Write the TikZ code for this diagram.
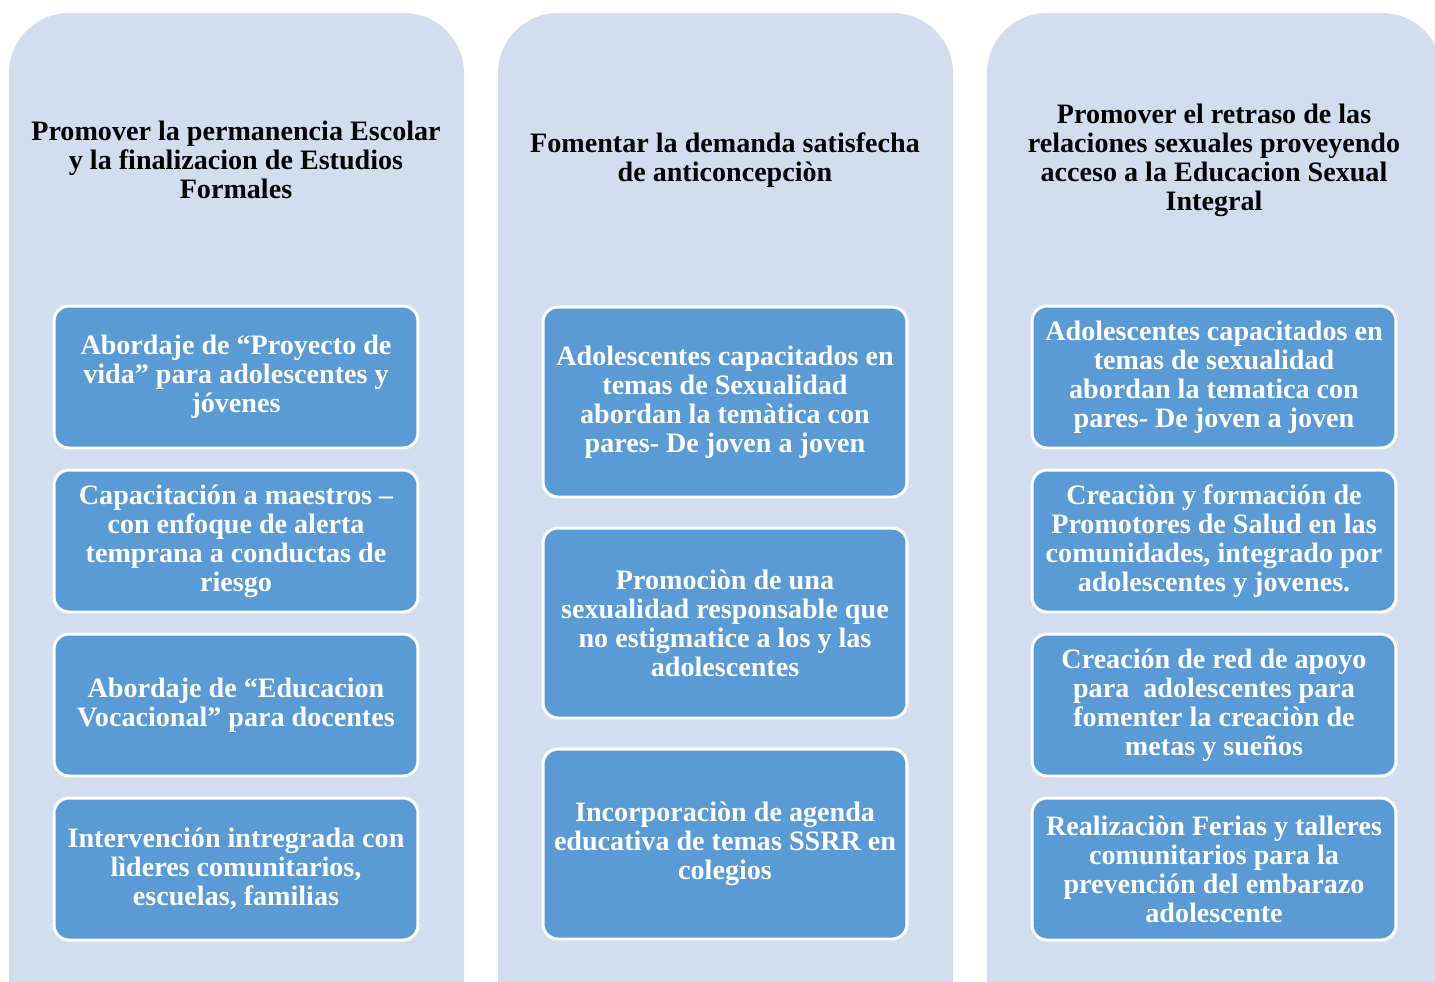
\documentclass[tikz,border=0pt]{standalone}
\usepackage{fontspec}
\setmainfont{Liberation Serif}
\definecolor{colbg}{HTML}{D2DEEF}
\definecolor{boxbg}{HTML}{5B9BD5}
\tikzset{
  column/.style={fill=colbg, rounded corners=1.2cm},
  head/.style={align=center, font=\bfseries\fontsize{16}{16.5}\selectfont},
  item/.style={draw=white, line width=1.7pt, fill=boxbg, rounded corners=0.3cm,
    text=white, align=center, minimum width=7.28cm, minimum height=2.84cm,
    font=\bfseries\fontsize{16}{16.5}\selectfont},
  tall/.style={item, minimum height=3.8cm}
}
\begin{document}
\begin{tikzpicture}[x=0.02cm, y=-0.02cm]
      \useasboundingbox (0,0) rectangle (1435,981);
      \clip (0,0) rectangle (1435,981);
      % columns
      \fill[column] (9,13) rectangle (464,1040);
      \fill[column] (498,13) rectangle (953,1040);
      \fill[column] (987,13) rectangle (1442,1040);
      % headings
      \node[head] (h1) at (236,160) {Promover la permanencia Escolar\\y la finalizacion de Estudios\\Formales};
      \node[head] (h2) at (725,160) {Fomentar la demanda satisfecha\\de anticoncepciòn};
      \node[head] (h3) at (1214,160) {Promover el retraso de las\\relaciones sexuales proveyendo\\acceso a la Educacion Sexual\\Integral};
      % first column
      \node[item] (a1) at (236,377) {Abordaje de “Proyecto de\\vida” para adolescentes y\\jóvenes};
      \node[item] (a2) at (236,541) {Capacitación a maestros –\\con enfoque de alerta\\temprana a conductas de\\riesgo};
      \node[item] (a3) at (236,705) {Abordaje de “Educacion\\Vocacional” para docentes};
      \node[item] (a4) at (236,869) {Intervención intregrada con\\lìderes comunitarios,\\escuelas, familias};
      % second column
      \node[tall] (b1) at (725,402) {Adolescentes capacitados en\\temas de Sexualidad\\abordan la temàtica con\\pares- De joven a joven};
      \node[tall] (b2) at (725,623) {Promociòn de una\\sexualidad responsable que\\no estigmatice a los y las\\adolescentes};
      \node[tall] (b3) at (725,844) {Incorporaciòn de agenda\\educativa de temas SSRR en\\colegios};
      % third column
      \node[item] (c1) at (1214,377) {Adolescentes capacitados en\\temas de sexualidad\\abordan la tematica con\\pares- De joven a joven};
      \node[item] (c2) at (1214,541) {Creaciòn y formación de\\Promotores de Salud en las\\comunidades, integrado por\\adolescentes y jovenes.};
      \node[item] (c3) at (1214,705) {Creación de red de apoyo\\para\ \ adolescentes para\\fomenter la creaciòn de\\metas y sueños};
      \node[item] (c4) at (1214,869) {Realizaciòn Ferias y talleres\\comunitarios para la\\prevención del embarazo\\adolescente};
    \end{tikzpicture}
\end{document}
